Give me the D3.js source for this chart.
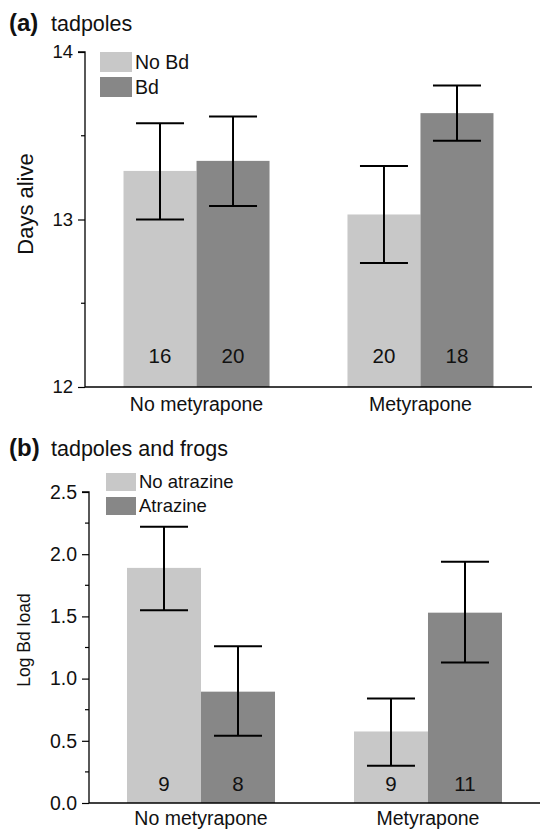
<!DOCTYPE html>
<html><head><meta charset="utf-8">
<script src="https://cdn.jsdelivr.net/npm/d3@7"></script>
<style>body{margin:0;background:#fff}svg{display:block;font-family:"Liberation Sans",Arial,sans-serif}</style>
</head><body>
<svg id="c" width="540" height="830"></svg>
<script>
const groups = ["No metyrapone", "Metyrapone"];
// Panel a
const aSeries = ["No Bd", "Bd"];
const aMeans = [[13.29, 13.35], [13.03, 13.635]];
const aLow = [[13.0, 13.08], [12.74, 13.47]];
const aHigh = [[13.575, 13.615], [13.32, 13.80]];
const aN = [["16", "20"], ["20", "18"]];
const aTicks = [12, 13, 14];
// Panel b
const bSeries = ["No atrazine", "Atrazine"];
const bMeans = [[1.89, 0.895], [0.575, 1.53]];
const bLow = [[1.55, 0.54], [0.30, 1.13]];
const bHigh = [[2.22, 1.26], [0.84, 1.94]];
const bN = [["9", "8"], ["9", "11"]];
const bTicks = [0, 0.5, 1.0, 1.5, 2.0, 2.5];

const colors = ["#c8c8c8", "#878787"];
const svg = d3.select("#c");

function panel(o) {
  const g = svg.append("g");
  const y = d3.scaleLinear().domain(o.domain).range([o.y1, o.y0]);
  const x0 = d3.scaleBand().domain(groups).range([o.xl, o.xr]).paddingInner(o.pin).paddingOuter(o.pout);
  const x1 = d3.scaleBand().domain([0, 1]).range([0, x0.bandwidth()]);
  groups.forEach((gr, i) => {
    [0, 1].forEach(j => {
      const bx = x0(gr) + x1(j);
      g.append("rect").attr("x", bx).attr("width", x1.bandwidth())
        .attr("y", y(o.means[i][j])).attr("height", y(o.domain[0]) - y(o.means[i][j]))
        .attr("fill", colors[j]);
      const cx = bx + x1.bandwidth() / 2;
      g.append("line").attr("x1", cx).attr("x2", cx).attr("y1", y(o.low[i][j])).attr("y2", y(o.high[i][j]))
        .attr("stroke", "#000").attr("stroke-width", 2);
      [o.low[i][j], o.high[i][j]].forEach(v => {
        g.append("line").attr("x1", cx - 24).attr("x2", cx + 24).attr("y1", y(v)).attr("y2", y(v))
          .attr("stroke", "#000").attr("stroke-width", 2);
      });
      g.append("text").attr("x", cx).attr("y", o.nY).attr("text-anchor", "middle")
        .attr("font-size", o.nSize).attr("fill", "#111").text(o.n[i][j]);
    });
  });
  const ya = d3.axisLeft(y).tickValues(o.ticks).tickFormat(o.fmt).tickSize(7).tickPadding(5);
  const yg = g.append("g").attr("transform", `translate(${o.xl},0)`).call(ya);
  yg.select(".domain").attr("stroke", "#000").attr("stroke-width", 1.3).attr("d", `M-7,${o.y0}H0V${o.y1}`);
  yg.selectAll(".tick line").attr("stroke", "#000").attr("stroke-width", 1.2);
  yg.selectAll(".tick text").attr("font-size", o.tickSize).attr("fill", "#111").attr("font-family", "Liberation Sans, Arial, sans-serif");
  g.append("g").selectAll("line").data(o.minor).join("line")
    .attr("x1", o.xl - 4).attr("x2", o.xl).attr("y1", d => y(d)).attr("y2", d => y(d))
    .attr("stroke", "#000").attr("stroke-width", 1.2);
  g.append("line").attr("x1", o.xl).attr("x2", o.xEnd).attr("y1", o.y1).attr("y2", o.y1)
    .attr("stroke", "#000").attr("stroke-width", 1.3);
  groups.forEach(gr => {
    g.append("text").attr("x", x0(gr) + x0.bandwidth() / 2).attr("y", o.xlabY).attr("text-anchor", "middle")
      .attr("font-size", o.xlabSize).attr("fill", "#111").text(gr);
  });
  g.append("text").attr("transform", `translate(${o.ylabX},${o.ylabY}) rotate(-90)`)
    .attr("text-anchor", "middle").attr("font-size", o.ylabSize).attr("fill", "#111").text(o.ylab);
  g.append("text").attr("x", 9).attr("y", o.titleY).attr("font-size", 24).attr("font-weight", "bold").attr("fill", "#111").text(o.tag);
  g.append("text").attr("x", 51).attr("y", o.titleY).attr("font-size", 21.5).attr("fill", "#111").text(o.title);
  o.series.forEach((s, j) => {
    g.append("rect").attr("x", o.legX).attr("y", o.legY + j * o.legStep).attr("width", o.legW).attr("height", o.legH).attr("fill", colors[j]);
    g.append("text").attr("x", o.legX + o.legW + 3).attr("y", o.legY + j * o.legStep + o.legH - 3)
      .attr("font-size", o.legSize).attr("fill", "#111").text(s);
  });
}

panel({
  domain: [12, 14], y0: 52, y1: 387, xl: 85, xr: 532, xEnd: 532, pin: 0.348, pout: 0.172,
  means: aMeans, low: aLow, high: aHigh, n: aN, nY: 363, nSize: 20.5,
  ticks: aTicks, fmt: d3.format("d"), minor: [12.5, 13.5], tickSize: 18.5,
  xlabSize: 19.5, xlabY: 411, ylab: "Days alive", ylabX: 33, ylabY: 204, ylabSize: 22,
  tag: "(a)", title: "tadpoles", titleY: 31, series: aSeries,
  legX: 100, legY: 52, legW: 32, legH: 20, legStep: 25, legSize: 19.5
});
panel({
  domain: [0, 2.5], y0: 492, y1: 803, xl: 89, xr: 540, xEnd: 540, pin: 0.348, pout: 0.1675,
  means: bMeans, low: bLow, high: bHigh, n: bN, nY: 791, nSize: 20.5,
  ticks: bTicks, fmt: d3.format(".1f"), minor: [0.25, 0.75, 1.25, 1.75, 2.25], tickSize: 19.5,
  xlabSize: 19.5, xlabY: 825, ylab: "Log Bd load", ylabX: 30, ylabY: 640, ylabSize: 17.5,
  tag: "(b)", title: "tadpoles and frogs", titleY: 456, series: bSeries,
  legX: 106, legY: 473, legW: 30, legH: 18, legStep: 24, legSize: 18.5
});
</script>
</body></html>
